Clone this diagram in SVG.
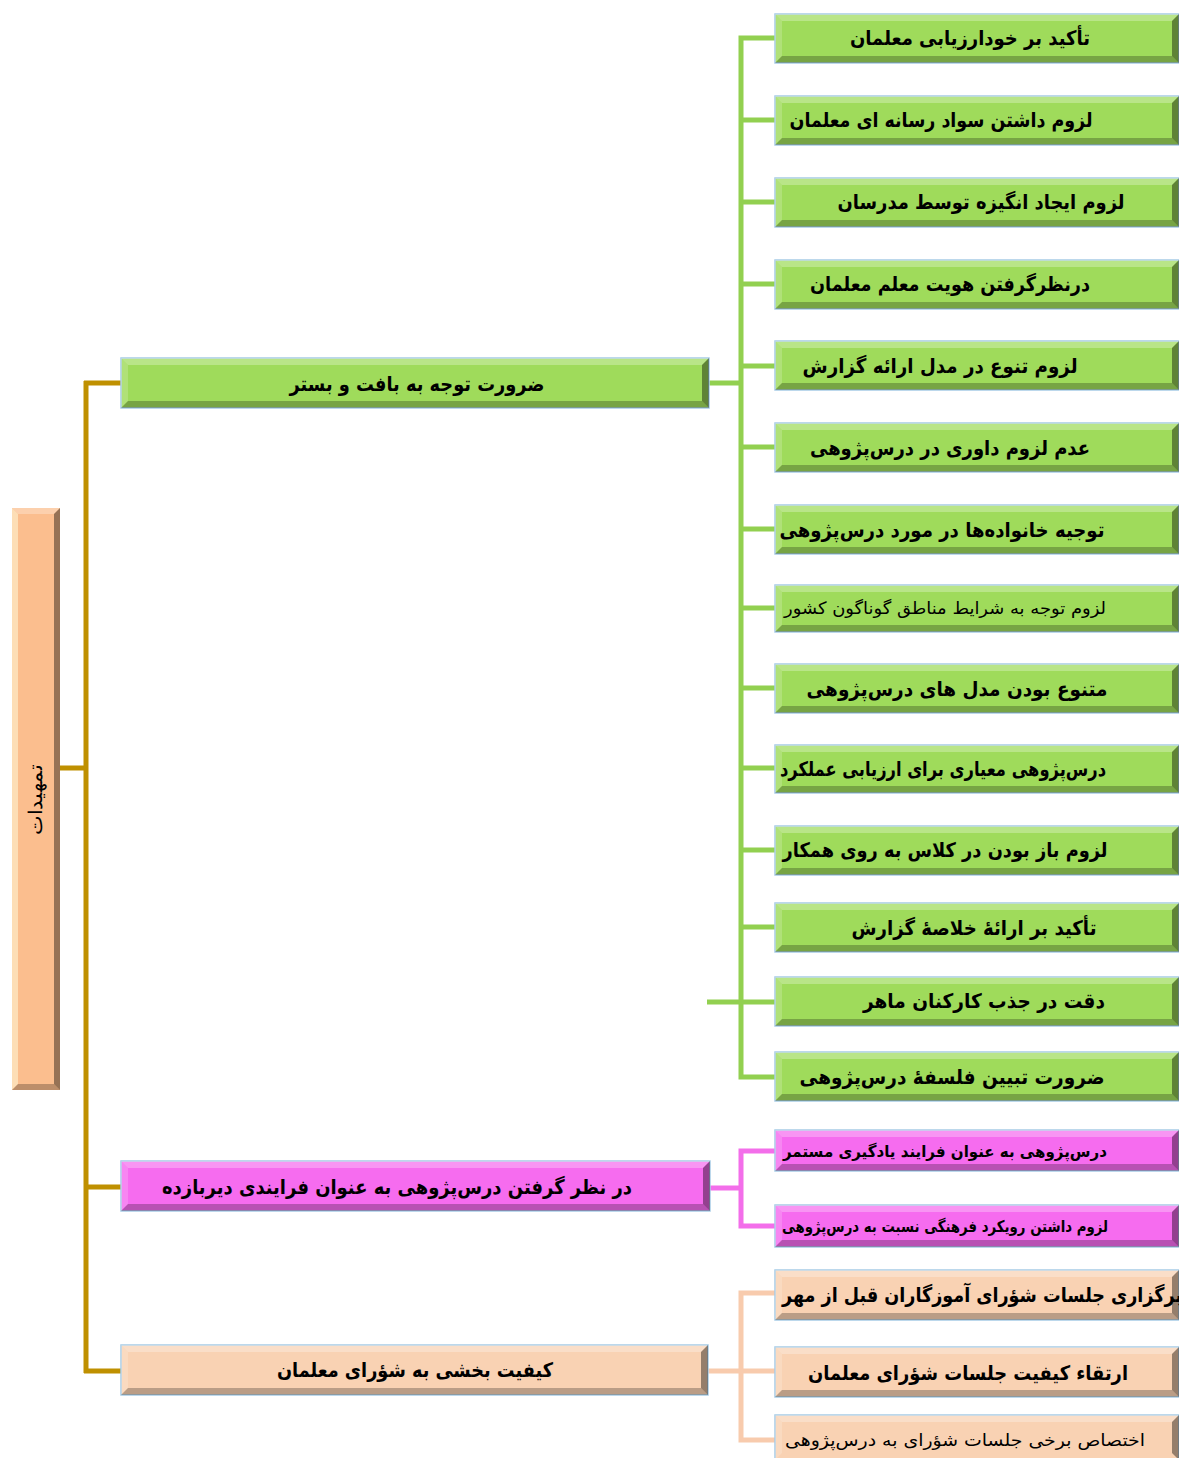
<svg xmlns="http://www.w3.org/2000/svg" width="1179" height="1458" viewBox="0 0 1179 1458">
<style>
.t{font-family:"DejaVu Sans",sans-serif;font-weight:bold;font-size:20px;fill:#000;text-anchor:middle}
.s{font-size:17px;font-weight:normal}
.sb{font-size:16px}
.g{fill:#9FDB5B;stroke:#A6CCE6;stroke-width:1.5}
.p{fill:#F66CEF;stroke:#A6CCE6;stroke-width:1.5}
.q{fill:#F9D2B3;stroke:#A6CCE6;stroke-width:1.5}
.r{fill:#FBBE8E}
.bt{fill:#fff;opacity:.28}
.bl{fill:#fff;opacity:.18}
.br{fill:#000;opacity:.4}
.bb{fill:#000;opacity:.25}
.cg{fill:none;stroke:#92D050;stroke-width:5}
.cp{fill:none;stroke:#F36EEA;stroke-width:5}
.cq{fill:none;stroke:#F8CBAD;stroke-width:5}
.co{fill:none;stroke:#BF9000;stroke-width:5}
</style>
<rect width="1179" height="1458" fill="#fff"/>
<g id="connectors">
<path class="co" d="M60 768H86M86 381V1373M84 383H121M86 1187H121M84 1371H121"/>
<path class="cg" d="M709 383H741M775 38H741V1077H775M741 120H775M741 202H775M741 284H775M741 366H775M741 447H775M741 529H775M741 608H775M741 688H775M741 768H775M741 850H775M741 927H775M707 1002H775"/>
<path class="cp" d="M710 1188H741M775 1151H741V1226H775"/>
<path class="cq" d="M708 1371H775M775 1293H741V1440H775"/>
</g>
<g id="root">
<rect class="r" x="12" y="508" width="48" height="582"/>
<polygon class="bt" points="12,508 60,508 54,514 18,514"/>
<polygon fill="#FFF3D0" opacity=".6" points="12,508 18,514 18,1084 12,1090"/>
<polygon class="br" points="60,508 60,1090 54,1084 54,514"/>
<polygon class="bb" points="12,1090 18,1084 54,1084 60,1090"/>
<text transform="translate(36,800) rotate(-90)" y="6" style="font-family:'DejaVu Serif',serif;font-size:19px;fill:#000;text-anchor:middle" textLength="70" lengthAdjust="spacingAndGlyphs">تمهیدات</text>
</g>
<g id="mid1">
<rect class="g" x="121" y="358" width="588" height="50"/>
<polygon class="bt" points="121,358 709,358 702,365 128,365"/><polygon class="bl" points="121,358 128,365 128,401 121,408"/><polygon class="br" points="709,358 709,408 702,401 702,365"/><polygon class="bb" points="121,408 128,401 702,401 709,408"/>
<text class="t" x="417" y="391" textLength="255" lengthAdjust="spacingAndGlyphs">ضرورت توجه به بافت و بستر</text>
</g>
<g id="mid2">
<rect class="p" x="121" y="1161" width="589" height="50"/>
<polygon class="bt" points="121,1161 710,1161 703,1168 128,1168"/><polygon class="bl" points="121,1161 128,1168 128,1204 121,1211"/><polygon class="br" points="710,1161 710,1211 703,1204 703,1168"/><polygon class="bb" points="121,1211 128,1204 703,1204 710,1211"/>
<text class="t" x="397" y="1194" textLength="470" lengthAdjust="spacingAndGlyphs">در نظر گرفتن درس‌پژوهی به عنوان فرایندی دیربازده</text>
</g>
<g id="mid3">
<rect class="q" x="121" y="1345" width="587" height="50"/>
<polygon class="bt" points="121,1345 708,1345 701,1352 128,1352"/><polygon class="bl" points="121,1345 128,1352 128,1388 121,1395"/><polygon class="br" points="708,1345 708,1395 701,1388 701,1352"/><polygon class="bb" points="121,1395 128,1388 701,1388 708,1395"/>
<text class="t" x="415" y="1377" textLength="276" lengthAdjust="spacingAndGlyphs">کیفیت بخشی به شؤرای معلمان</text>
</g>
<g id="g1">
<rect class="g" x="775" y="14" width="404" height="49"/>
<polygon class="bt" points="775,14 1179,14 1172,21 782,21"/><polygon class="bl" points="775,14 782,21 782,56 775,63"/><polygon class="br" points="1179,14 1179,63 1172,56 1172,21"/><polygon class="bb" points="775,63 782,56 1172,56 1179,63"/>
<text class="t" x="970" y="45" textLength="240" lengthAdjust="spacingAndGlyphs">تأکید بر خودارزیابی معلمان</text>
</g>
<g id="g2">
<rect class="g" x="775" y="96" width="404" height="49"/>
<polygon class="bt" points="775,96 1179,96 1172,103 782,103"/><polygon class="bl" points="775,96 782,103 782,138 775,145"/><polygon class="br" points="1179,96 1179,145 1172,138 1172,103"/><polygon class="bb" points="775,145 782,138 1172,138 1179,145"/>
<text class="t" x="941" y="127" textLength="303" lengthAdjust="spacingAndGlyphs">لزوم داشتن سواد رسانه ای معلمان</text>
</g>
<g id="g3">
<rect class="g" x="775" y="178" width="404" height="49"/>
<polygon class="bt" points="775,178 1179,178 1172,185 782,185"/><polygon class="bl" points="775,178 782,185 782,220 775,227"/><polygon class="br" points="1179,178 1179,227 1172,220 1172,185"/><polygon class="bb" points="775,227 782,220 1172,220 1179,227"/>
<text class="t" x="981" y="209" textLength="287" lengthAdjust="spacingAndGlyphs">لزوم ایجاد انگیزه توسط مدرسان</text>
</g>
<g id="g4">
<rect class="g" x="775" y="260" width="404" height="49"/>
<polygon class="bt" points="775,260 1179,260 1172,267 782,267"/><polygon class="bl" points="775,260 782,267 782,302 775,309"/><polygon class="br" points="1179,260 1179,309 1172,302 1172,267"/><polygon class="bb" points="775,309 782,302 1172,302 1179,309"/>
<text class="t" x="950" y="291" textLength="280" lengthAdjust="spacingAndGlyphs">درنظرگرفتن هویت معلم معلمان</text>
</g>
<g id="g5">
<rect class="g" x="775" y="341" width="404" height="49"/>
<polygon class="bt" points="775,341 1179,341 1172,348 782,348"/><polygon class="bl" points="775,341 782,348 782,383 775,390"/><polygon class="br" points="1179,341 1179,390 1172,383 1172,348"/><polygon class="bb" points="775,390 782,383 1172,383 1179,390"/>
<text class="t" x="940" y="373" textLength="275" lengthAdjust="spacingAndGlyphs">لزوم تنوع در  مدل ارائه گزارش</text>
</g>
<g id="g6">
<rect class="g" x="775" y="423" width="404" height="49"/>
<polygon class="bt" points="775,423 1179,423 1172,430 782,430"/><polygon class="bl" points="775,423 782,430 782,465 775,472"/><polygon class="br" points="1179,423 1179,472 1172,465 1172,430"/><polygon class="bb" points="775,472 782,465 1172,465 1179,472"/>
<text class="t" x="950" y="455" textLength="280" lengthAdjust="spacingAndGlyphs">عدم لزوم داوری در درس‌پژوهی</text>
</g>
<g id="g7">
<rect class="g" x="775" y="505" width="404" height="49"/>
<polygon class="bt" points="775,505 1179,505 1172,512 782,512"/><polygon class="bl" points="775,505 782,512 782,547 775,554"/><polygon class="br" points="1179,505 1179,554 1172,547 1172,512"/><polygon class="bb" points="775,554 782,547 1172,547 1179,554"/>
<text class="t" x="942" y="537" textLength="325" lengthAdjust="spacingAndGlyphs">توجیه خانواده‌ها در مورد درس‌پژوهی</text>
</g>
<g id="g8">
<rect class="g" x="775" y="585" width="404" height="47"/>
<polygon class="bt" points="775,585 1179,585 1172,592 782,592"/><polygon class="bl" points="775,585 782,592 782,625 775,632"/><polygon class="br" points="1179,585 1179,632 1172,625 1172,592"/><polygon class="bb" points="775,632 782,625 1172,625 1179,632"/>
<text class="t s" x="945" y="614" textLength="322" lengthAdjust="spacingAndGlyphs">لزوم توجه به شرایط مناطق گوناگون کشور</text>
</g>
<g id="g9">
<rect class="g" x="775" y="664" width="404" height="49"/>
<polygon class="bt" points="775,664 1179,664 1172,671 782,671"/><polygon class="bl" points="775,664 782,671 782,706 775,713"/><polygon class="br" points="1179,664 1179,713 1172,706 1172,671"/><polygon class="bb" points="775,713 782,706 1172,706 1179,713"/>
<text class="t" x="957" y="696" textLength="301" lengthAdjust="spacingAndGlyphs">متنوع بودن مدل های درس‌پژوهی</text>
</g>
<g id="g10">
<rect class="g" x="775" y="745" width="404" height="48"/>
<polygon class="bt" points="775,745 1179,745 1172,752 782,752"/><polygon class="bl" points="775,745 782,752 782,786 775,793"/><polygon class="br" points="1179,745 1179,793 1172,786 1172,752"/><polygon class="bb" points="775,793 782,786 1172,786 1179,793"/>
<text class="t" x="943" y="776" textLength="326" lengthAdjust="spacingAndGlyphs">درس‌پژوهی معیاری برای ارزیابی عملکرد</text>
</g>
<g id="g11">
<rect class="g" x="775" y="826" width="404" height="49"/>
<polygon class="bt" points="775,826 1179,826 1172,833 782,833"/><polygon class="bl" points="775,826 782,833 782,868 775,875"/><polygon class="br" points="1179,826 1179,875 1172,868 1172,833"/><polygon class="bb" points="775,875 782,868 1172,868 1179,875"/>
<text class="t" x="945" y="857" textLength="325" lengthAdjust="spacingAndGlyphs">لزوم باز بودن در کلاس به روی همکار</text>
</g>
<g id="g12">
<rect class="g" x="775" y="903" width="404" height="49"/>
<polygon class="bt" points="775,903 1179,903 1172,910 782,910"/><polygon class="bl" points="775,903 782,910 782,945 775,952"/><polygon class="br" points="1179,903 1179,952 1172,945 1172,910"/><polygon class="bb" points="775,952 782,945 1172,945 1179,952"/>
<text class="t" x="974" y="935" textLength="245" lengthAdjust="spacingAndGlyphs">تأکید بر ارائهٔ خلاصهٔ گزارش</text>
</g>
<g id="g13">
<rect class="g" x="775" y="977" width="404" height="49"/>
<polygon class="bt" points="775,977 1179,977 1172,984 782,984"/><polygon class="bl" points="775,977 782,984 782,1019 775,1026"/><polygon class="br" points="1179,977 1179,1026 1172,1019 1172,984"/><polygon class="bb" points="775,1026 782,1019 1172,1019 1179,1026"/>
<text class="t" x="984" y="1008" textLength="242" lengthAdjust="spacingAndGlyphs">دقت در جذب کارکنان ماهر</text>
</g>
<g id="g14">
<rect class="g" x="775" y="1052" width="404" height="49"/>
<polygon class="bt" points="775,1052 1179,1052 1172,1059 782,1059"/><polygon class="bl" points="775,1052 782,1059 782,1094 775,1101"/><polygon class="br" points="1179,1052 1179,1101 1172,1094 1172,1059"/><polygon class="bb" points="775,1101 782,1094 1172,1094 1179,1101"/>
<text class="t" x="952" y="1084" textLength="305" lengthAdjust="spacingAndGlyphs">ضرورت تبیین  فلسفهٔ درس‌پژوهی</text>
</g>
<g id="p1">
<rect class="p" x="775" y="1130" width="404" height="41"/>
<polygon class="bt" points="775,1130 1179,1130 1172,1137 782,1137"/><polygon class="bl" points="775,1130 782,1137 782,1164 775,1171"/><polygon class="br" points="1179,1130 1179,1171 1172,1164 1172,1137"/><polygon class="bb" points="775,1171 782,1164 1172,1164 1179,1171"/>
<text class="t sb" x="945" y="1157" textLength="324" lengthAdjust="spacingAndGlyphs">درس‌پژوهی به عنوان فرایند یادگیری مستمر</text>
</g>
<g id="p2">
<rect class="p" x="775" y="1205" width="404" height="42"/>
<polygon class="bt" points="775,1205 1179,1205 1172,1212 782,1212"/><polygon class="bl" points="775,1205 782,1212 782,1240 775,1247"/><polygon class="br" points="1179,1205 1179,1247 1172,1240 1172,1212"/><polygon class="bb" points="775,1247 782,1240 1172,1240 1179,1247"/>
<text class="t sb" x="945" y="1232" textLength="326" lengthAdjust="spacingAndGlyphs">لزوم داشتن رویکرد فرهنگی نسبت به درس‌پژوهی</text>
</g>
<g id="q1">
<rect class="q" x="775" y="1270" width="404" height="50"/>
<polygon class="bt" points="775,1270 1179,1270 1172,1277 782,1277"/><polygon class="bl" points="775,1270 782,1277 782,1313 775,1320"/><polygon class="br" points="1179,1270 1179,1320 1172,1313 1172,1277"/><polygon class="bb" points="775,1320 782,1313 1172,1313 1179,1320"/>
<text class="t" style="font-weight:600" x="982" y="1302" textLength="400" lengthAdjust="spacingAndGlyphs">برگزاری جلسات شؤرای آموزگاران قبل از مهر</text>
</g>
<g id="q2">
<rect class="q" x="775" y="1347" width="404" height="50"/>
<polygon class="bt" points="775,1347 1179,1347 1172,1354 782,1354"/><polygon class="bl" points="775,1347 782,1354 782,1390 775,1397"/><polygon class="br" points="1179,1347 1179,1397 1172,1390 1172,1354"/><polygon class="bb" points="775,1397 782,1390 1172,1390 1179,1397"/>
<text class="t" x="968" y="1380" textLength="320" lengthAdjust="spacingAndGlyphs">ارتقاء کیفیت جلسات شؤرای معلمان</text>
</g>
<g id="q3">
<rect class="q" x="775" y="1415" width="404" height="45"/>
<polygon class="bt" points="775,1415 1179,1415 1172,1422 782,1422"/><polygon class="bl" points="775,1415 782,1422 782,1453 775,1460"/><polygon class="br" points="1179,1415 1179,1460 1172,1453 1172,1422"/>
<text class="t s" x="965" y="1446" textLength="360" lengthAdjust="spacingAndGlyphs">اختصاص برخی جلسات شؤرای  به درس‌پژوهی</text>
</g>
</svg>
